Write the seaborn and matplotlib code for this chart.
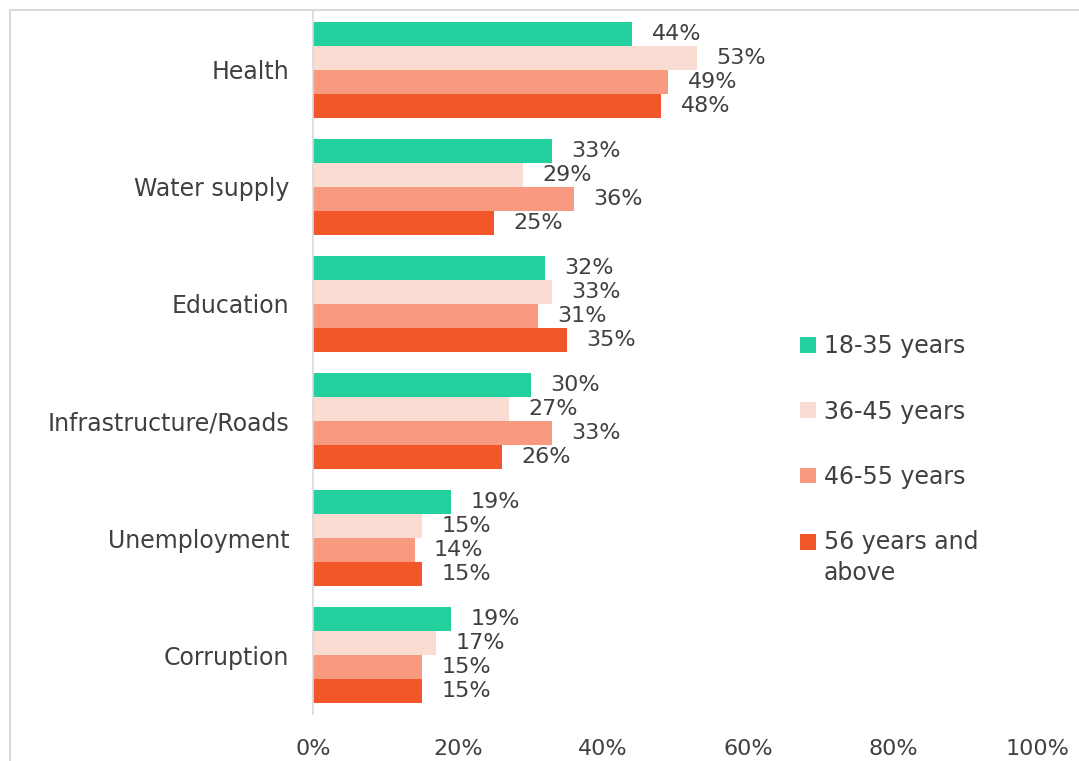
import pandas as pd
import matplotlib.pyplot as plt
import seaborn as sns
from matplotlib.lines import Line2D

sns.set_style("white")
plt.rcParams['font.family'] = ['DejaVu Sans']

# Data
categories = ['Health', 'Water supply', 'Education', 'Infrastructure/Roads', 'Unemployment', 'Corruption']
age_groups = ['18-35 years', '36-45 years', '46-55 years', '56 years and\nabove']
age_18_35 = [44, 33, 32, 30, 19, 19]
age_36_45 = [53, 29, 33, 27, 15, 17]
age_46_55 = [49, 36, 31, 33, 14, 15]
age_56_up = [48, 25, 35, 26, 15, 15]
x_ticks = [0, 20, 40, 60, 80, 100]

palette = ['#23D19F', '#FADCD2', '#F79A80', '#F2572A']
text_color = '#404040'

rows = []
for grp, vals in zip(age_groups, [age_18_35, age_36_45, age_46_55, age_56_up]):
    for cat, v in zip(categories, vals):
        rows.append({'category': cat, 'age': grp, 'value': v})
df = pd.DataFrame(rows)

fig = plt.figure(figsize=(10.79, 7.61), dpi=100)
ax = fig.add_axes([313 / 1079, 1 - 714 / 761, (1038 - 313) / 1079, (714 - 11) / 761])

sns.barplot(data=df, x='value', y='category', hue='age', order=categories,
            hue_order=age_groups, palette=palette, orient='h', width=0.82,
            saturation=1, gap=0, linewidth=0, ax=ax, legend=True)

for container in ax.containers:
    ax.bar_label(container, labels=[f'{int(round(v))}%' for v in container.datavalues],
                 padding=14, fontsize=16, color=text_color)

ax.set_xlim(0, 100)
ax.set_xticks(x_ticks)
ax.set_xticklabels([f'{v}%' for v in x_ticks], fontsize=16, color=text_color)
ax.tick_params(axis='x', length=0, pad=18)
ax.tick_params(axis='y', length=0, pad=17, labelsize=17, labelcolor=text_color)
ax.set_xlabel('')
ax.set_ylabel('')
for side in ['top', 'right', 'bottom']:
    ax.spines[side].set_visible(False)
ax.spines['left'].set_color('#D9D9D9')
ax.spines['left'].set_linewidth(1.2)

handles, labels = ax.get_legend_handles_labels()
leg = ax.legend(handles, labels, loc='upper left', bbox_to_anchor=(779 / 1079, 1 - 313 / 761),
                bbox_transform=fig.transFigure, frameon=False, fontsize=17,
                labelcolor=text_color, handlelength=0.65, handleheight=0.65,
                handletextpad=0.35, labelspacing=1.75)
for t in leg.get_texts():
    t.set_linespacing(1.35)
# align the marker of the two-line entry with its first line
last = leg.legend_handles[-1]
last.set_y(last.get_y() + 12)

# outer chart border
fig.add_artist(Line2D([10 / 1079, 1], [1 - 10 / 761, 1 - 10 / 761], transform=fig.transFigure,
                      color='#D9D9D9', linewidth=1.5))
fig.add_artist(Line2D([10 / 1079, 10 / 1079], [0, 1 - 10 / 761], transform=fig.transFigure,
                      color='#D9D9D9', linewidth=1.5))

plt.savefig('out.png', dpi=100)
plt.close()
